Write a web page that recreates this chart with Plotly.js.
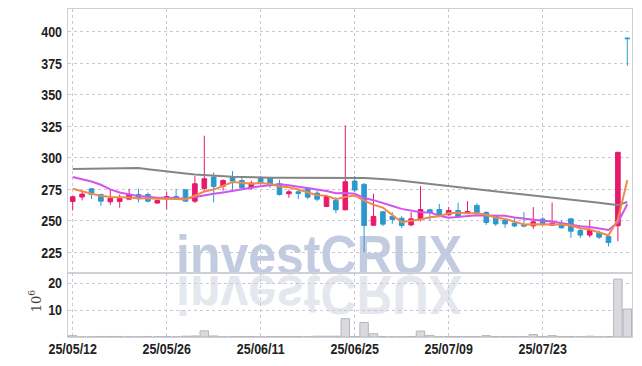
<!DOCTYPE html>
<html>
<head>
<meta charset="utf-8">
<script src="https://cdn.plot.ly/plotly-3.0.1.min.js"></script>
<style>
  html, body { margin: 0; padding: 0; background: #ffffff; }
  #wrap { position: relative; width: 642px; height: 366px; }
  #wm { position: absolute; left: 0; top: 0; z-index: 0; }
  #chart { position: absolute; left: 0; top: 0; width: 642px; height: 366px; z-index: 1; }
</style>
</head>
<body>
<div id="wrap">
  <svg id="wm" width="642" height="366" xmlns="http://www.w3.org/2000/svg">
    <text x="176" y="274" textLength="286" lengthAdjust="spacingAndGlyphs"
          font-family="Liberation Sans, Arial, sans-serif" font-weight="bold" font-size="56"
          fill="#c3cbe0">investCRUX</text>
    <g transform="translate(0,550) scale(1,-1)">
      <text x="176" y="274" textLength="286" lengthAdjust="spacingAndGlyphs"
            font-family="Liberation Sans, Arial, sans-serif" font-weight="bold" font-size="56"
            fill="#e5e7ef">investCRUX</text>
    </g>
  </svg>
  <div id="chart"></div>
</div>
<script>
// Trading dates (category axis)
const dates = [
  "25/05/12","25/05/13","25/05/14","25/05/15","25/05/16","25/05/19","25/05/20","25/05/21","25/05/22","25/05/23",
  "25/05/26","25/05/27","25/05/28","25/05/29","25/05/30","25/06/02","25/06/04","25/06/05","25/06/09","25/06/10",
  "25/06/11","25/06/12","25/06/13","25/06/16","25/06/17","25/06/18","25/06/19","25/06/20","25/06/23","25/06/24",
  "25/06/25","25/06/26","25/06/27","25/06/30","25/07/01","25/07/02","25/07/03","25/07/04","25/07/07","25/07/08",
  "25/07/09","25/07/10","25/07/11","25/07/14","25/07/15","25/07/16","25/07/17","25/07/18","25/07/21","25/07/22",
  "25/07/23","25/07/24","25/07/25","25/07/28","25/07/29","25/07/30","25/07/31","25/08/01","25/08/04","25/08/05"
];
const openP = [
  265.5,269.0,275.5,271.0,265.2,265.5,267.3,271.0,271.0,264.2,
  267.5,269.4,274.7,265.7,275.8,284.8,277.6,284.8,282.1,276.3,
  284.3,284.3,279.5,271.6,273.1,276.0,272.1,261.5,266.3,258.9,
  281.6,279.0,246.6,257.3,253.6,252.2,246.9,251.7,258.9,259.1,
  254.9,258.3,255.9,262.3,256.7,254.1,250.4,248.3,246.7,246.1,
  251.5,246.7,247.7,251.7,242.5,238.8,240.9,237.7,246.2,395.0
];
const highP = [
  270.0,273.4,275.8,271.5,275.0,271.0,275.5,275.5,272.6,266.8,
  273.0,275.5,275.0,285.6,317.6,288.5,283.0,289.6,284.2,282.0,
  285.8,285.0,282.7,274.7,275.8,277.0,274.2,270.5,268.9,325.8,
  285.6,280.0,271.6,258.0,257.0,253.8,257.0,277.6,259.6,263.6,
  261.0,264.4,265.7,264.1,257.8,254.5,252.5,252.5,257.0,261.0,
  253.0,264.7,250.4,252.0,244.6,250.9,242.5,238.0,304.4,395.0
];
const lowP = [
  258.3,266.3,267.3,262.0,262.8,260.5,267.0,264.7,264.7,263.6,
  259.0,267.6,265.0,264.2,273.7,264.7,274.0,274.7,274.7,274.7,
  279.0,276.3,270.2,268.4,267.3,267.3,265.5,261.0,256.2,258.3,
  272.9,225.3,246.0,245.9,247.7,244.3,245.9,249.6,250.1,253.6,
  254.3,252.5,255.7,254.3,246.9,246.1,244.6,245.1,245.1,243.8,
  246.0,246.0,244.0,236.6,236.6,236.9,235.6,229.8,234.0,373.0
];
const closeP = [
  269.2,271.3,271.0,265.7,267.9,268.0,271.0,267.6,265.7,266.3,
  269.4,268.5,265.7,279.5,283.5,277.4,282.1,281.6,276.3,280.0,
  280.3,279.0,271.0,273.1,271.8,268.9,267.3,269.4,258.9,281.1,
  274.5,246.4,253.6,247.5,251.2,246.4,251.7,259.1,256.7,254.9,
  258.3,253.6,257.5,256.5,248.8,247.7,247.7,246.1,246.0,249.3,
  247.7,248.3,244.6,241.9,238.8,242.5,237.2,232.9,304.4,394.5
];
// Moving averages
const ma5 = [
  275.5,273.4,271.6,270.0,269.0,268.8,268.7,268.0,268.0,267.7,
  268.0,267.5,267.1,269.9,273.3,274.9,277.6,280.8,280.2,279.5,
  280.1,279.4,277.3,276.7,275.0,272.8,270.4,270.1,267.3,269.1,
  270.2,266.1,262.9,260.6,254.6,249.0,250.1,251.2,253.0,253.8,
  256.1,256.5,256.2,256.2,254.9,252.8,251.6,249.4,247.3,247.4,
  247.4,247.5,247.2,246.4,244.3,243.2,241.0,238.7,251.2,282.3
];
const ma10 = [
  284.8,283.2,281.3,278.7,275.0,272.6,271.0,269.7,269.2,268.4,
  268.4,268.1,267.6,269.0,270.5,271.5,272.6,274.0,275.0,276.4,
  277.5,278.5,279.1,278.4,277.3,276.4,274.9,273.7,272.0,272.1,
  271.5,268.2,266.5,263.9,261.9,259.6,258.1,257.0,256.8,254.2,
  252.6,253.3,253.7,254.6,254.4,254.5,254.1,252.8,251.7,251.2,
  250.1,249.6,248.3,246.8,245.8,245.3,244.2,242.9,248.8,263.3
];
const ma60 = [
  291.1,291.3,291.5,291.6,291.7,291.8,291.9,291.9,291.0,290.0,
  289.0,288.3,287.6,286.8,286.3,285.8,285.4,285.1,284.9,284.6,
  284.4,284.3,284.3,284.3,284.3,284.3,284.3,284.3,284.3,284.3,
  284.2,284.0,283.7,283.3,282.6,281.8,281.0,280.1,279.2,278.2,
  277.3,276.5,275.7,274.9,274.2,273.5,272.8,272.0,271.1,270.2,
  269.3,268.6,267.8,267.1,266.3,265.4,264.4,263.5,262.6,265.1
];
// Volume in millions of shares
const volume = [
  0.5,0.1,0.1,0.2,0.2,0.2,0.1,0.1,0.2,0.1,
  0.2,0.1,0.3,0.4,2.3,0.4,0.1,0.2,0.2,0.2,
  0.1,0.2,0.2,0.2,0.2,0.1,0.3,0.3,0.3,6.8,
  0.2,5.4,1.2,0.2,0.1,0.1,0.2,2.2,0.6,0.1,
  0.2,0.2,0.2,0.2,0.5,0.2,0.2,0.2,0.2,0.9,
  0.2,0.5,0.2,0.2,0.1,0.3,0.1,0.2,21.5,10.4
];
const priceTicks = [225, 250, 275, 300, 325, 350, 375, 400];
const volTicks = [10, 20];
const dateTicks = ["25/05/12","25/05/26","25/06/11","25/06/25","25/07/09","25/07/23"];

const RED = '#e8196a', BLUE = '#2b99cf';
const tickFont = {family: 'Liberation Sans, Arial, sans-serif', size: 15, color: '#222', weight: 'bold'};
const gridC = '#c8c8da', lineC = '#cfcfd6';

const traces = [
  {type: 'scatter', mode: 'lines', x: dates, y: ma60, line: {color: '#858585', width: 2}, xaxis: 'x', yaxis: 'y', hoverinfo: 'skip'},
  {type: 'scatter', mode: 'lines', x: dates, y: ma10, line: {color: '#d055ec', width: 2}, xaxis: 'x', yaxis: 'y', hoverinfo: 'skip'},
  {type: 'scatter', mode: 'lines', x: dates, y: ma5, line: {color: '#f08a4b', width: 2}, xaxis: 'x', yaxis: 'y', hoverinfo: 'skip'},
  {type: 'candlestick', x: dates, open: openP, high: highP, low: lowP, close: closeP,
   increasing: {line: {color: RED, width: 1}, fillcolor: RED},
   decreasing: {line: {color: BLUE, width: 1}, fillcolor: BLUE},
   whiskerwidth: 0, xaxis: 'x', yaxis: 'y'},
  {type: 'bar', x: dates, y: volume, marker: {color: '#d9d9de', line: {color: '#b4b4bc', width: 1}},
   xaxis: 'x', yaxis: 'y2', width: 0.9}
];

const layout = {
  width: 642, height: 366,
  margin: {l: 68, r: 10, t: 9, b: 29},
  paper_bgcolor: 'rgba(0,0,0,0)', plot_bgcolor: 'rgba(0,0,0,0)',
  showlegend: false,
  xaxis: {
    type: 'category', range: [-0.5, 59.5], anchor: 'y2',
    tickvals: dateTicks, ticktext: dateTicks, tickfont: tickFont,
    showgrid: true, gridcolor: gridC, griddash: 'dot', gridwidth: 1,
    showline: true, linecolor: lineC, linewidth: 1, mirror: 'all',
    ticks: '', rangeslider: {visible: false}, fixedrange: true
  },
  yaxis: {
    domain: [0.196, 1], range: [209, 418],
    tickvals: priceTicks, tickfont: tickFont,
    showgrid: true, gridcolor: gridC, griddash: 'dot', zeroline: false,
    showline: true, linecolor: lineC, mirror: 'all', ticks: '', ticklabelstandoff: 2
  },
  yaxis2: {
    domain: [0, 0.196], range: [0, 23.9],
    tickvals: volTicks, tickfont: tickFont,
    showgrid: true, gridcolor: gridC, griddash: 'dot', zeroline: false,
    showline: true, linecolor: lineC, mirror: 'all', ticks: '', ticklabelstandoff: 2
  },
  annotations: [{
    text: '10<sup>6</sup>', xref: 'paper', yref: 'paper', x: -0.058, y: 0.11,
    xanchor: 'center', yanchor: 'middle',
    showarrow: false, textangle: -90,
    font: {family: 'DejaVu Serif, Liberation Serif, serif', size: 13, color: '#444'}
  }]
};

Plotly.newPlot('chart', traces, layout, {displayModeBar: false, staticPlot: true}).then(function (gd) {
  // condense tick labels horizontally to mimic the narrow reference font
  gd.querySelectorAll('.xtick text, .ytick text, .y2tick text').forEach(function (t) {
    const w = t.getComputedTextLength();
    if (w > 0) {
      t.setAttribute('textLength', (w * 0.83).toFixed(2));
      t.setAttribute('lengthAdjust', 'spacingAndGlyphs');
    }
  });
  // nudge date labels up slightly
  gd.querySelectorAll('.xtick text').forEach(function (t) {
    const y = parseFloat(t.getAttribute('y'));
    if (!isNaN(y)) t.setAttribute('y', (y - 2.5).toFixed(2));
  });
});
</script>
</body>
</html>
